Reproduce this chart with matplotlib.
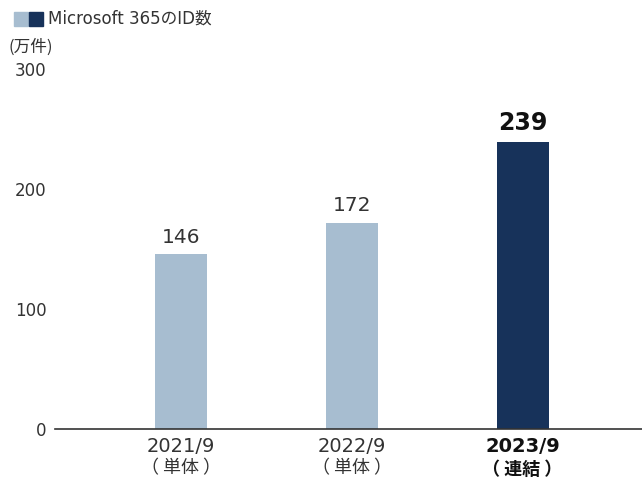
import matplotlib.pyplot as plt
from matplotlib.patches import Rectangle

LATIN = ['DejaVu Sans', 'Noto Sans CJK JP']
CJK = ['Noto Sans CJK JP', 'DejaVu Sans']
plt.rcParams['font.family'] = LATIN

# data
periods = ["2021/9", "2022/9", "2023/9"]
notes = ["（ 単体 ）", "（ 単体 ）", "（ 連結 ）"]
ids = [146, 172, 239]
bar_colors = ["#a7bdd0", "#a7bdd0", "#17325a"]
y_ticks = [0, 100, 200, 300]

fig = plt.figure(figsize=(6.42, 4.83), dpi=100)
ax = fig.add_axes([55 / 642, 54 / 483, 587 / 642, 360 / 483])

x = list(range(len(periods)))
ax.bar(x, ids, width=0.305, color=bar_colors)

ax.set_xlim(-0.74, 2.70)
ax.set_ylim(0, 300)

for s in ["top", "right", "left"]:
    ax.spines[s].set_visible(False)
ax.spines["bottom"].set_color("#333333")
ax.spines["bottom"].set_linewidth(1.2)

ax.set_yticks(y_ticks)
ax.set_yticklabels([str(v) for v in y_ticks], fontsize=12, color="#333333")
ax.tick_params(axis="y", length=0, pad=6)
ax.set_xticks(x)
ax.set_xticklabels([])
ax.tick_params(axis="x", length=0)

for i, (p, n, v) in enumerate(zip(periods, notes, ids)):
    last = i == len(periods) - 1
    w = "bold" if last else "normal"
    c = "#111111" if last else "#333333"
    ax.text(i, v + 6, str(v), ha="center", va="bottom",
            fontsize=17 if last else 14.5, fontweight=w, color=c)
    ax.text(i, -7, p, ha="center", va="top", fontsize=14, fontweight=w, color=c)
    ax.text(i, -25.5, n, ha="center", va="top", fontsize=13, fontweight=w,
            color=c, family=CJK)

# legend
fig.patches.append(Rectangle((14 / 642, 1 - 26 / 483), 14 / 642, 14 / 483,
                             transform=fig.transFigure, color=bar_colors[0]))
fig.patches.append(Rectangle((29 / 642, 1 - 26 / 483), 14 / 642, 14 / 483,
                             transform=fig.transFigure, color=bar_colors[2]))
fig.text(48 / 642, 1 - 19 / 483, "Microsoft 365のID数", fontsize=12,
         va="center", ha="left", color="#333333")
fig.text(9 / 642, 1 - 47 / 483, "(万件)", fontsize=12,
         va="center", ha="left", color="#333333", family=CJK)

fig.savefig("out.png", dpi=100)
